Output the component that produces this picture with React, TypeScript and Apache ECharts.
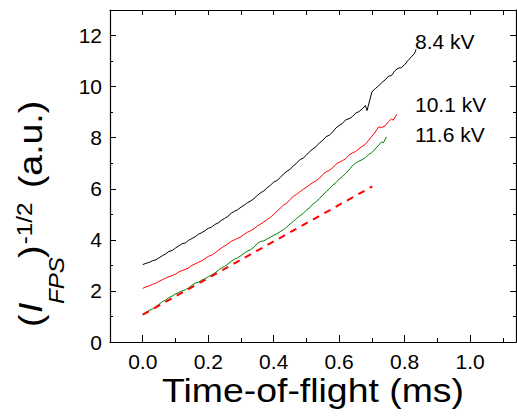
import React, { useEffect, useRef } from "react";
import * as echarts from "echarts";

const FONT = "'Liberation Sans', Arial, Helvetica, sans-serif";

// 8.4 kV (black)
const kv84: [number, number][] = [
  [0.0, 3.03], [0.01, 3.08], [0.02, 3.12], [0.03, 3.18], [0.04, 3.22], [0.05, 3.3],
  [0.06, 3.38], [0.07, 3.45], [0.08, 3.55], [0.09, 3.58], [0.1, 3.68], [0.11, 3.76],
  [0.12, 3.85], [0.13, 3.88], [0.14, 3.98], [0.15, 4.05], [0.16, 4.12], [0.17, 4.22],
  [0.18, 4.28], [0.19, 4.36], [0.2, 4.45], [0.21, 4.5], [0.22, 4.6], [0.23, 4.66],
  [0.24, 4.76], [0.25, 4.84], [0.26, 4.92], [0.27, 5.04], [0.28, 5.12], [0.29, 5.18],
  [0.3, 5.28], [0.31, 5.36], [0.32, 5.46], [0.33, 5.52], [0.34, 5.62], [0.35, 5.74],
  [0.36, 5.84], [0.37, 5.92], [0.38, 6.04], [0.39, 6.14], [0.4, 6.26], [0.41, 6.32],
  [0.42, 6.44], [0.43, 6.58], [0.44, 6.68], [0.45, 6.76], [0.46, 6.9], [0.47, 7.0],
  [0.48, 7.14], [0.49, 7.2], [0.5, 7.32], [0.51, 7.46], [0.52, 7.56], [0.53, 7.66],
  [0.54, 7.8], [0.55, 7.9], [0.56, 8.04], [0.57, 8.1], [0.58, 8.22], [0.59, 8.38],
  [0.6, 8.48], [0.61, 8.56], [0.62, 8.7], [0.63, 8.74], [0.64, 8.82], [0.65, 8.96],
  [0.66, 9.02], [0.67, 9.12], [0.68, 9.26], [0.685, 9.06], [0.695, 9.55], [0.7, 9.8],
  [0.71, 9.92], [0.72, 10.02], [0.73, 10.16], [0.74, 10.26], [0.75, 10.4], [0.76, 10.44],
  [0.77, 10.62], [0.78, 10.72], [0.79, 10.74], [0.8, 10.86], [0.81, 11.02], [0.82, 11.16],
  [0.83, 11.3], [0.835, 11.46],
];

// 10.1 kV (red)
const kv101: [number, number][] = [
  [0.0, 2.1], [0.01, 2.16], [0.02, 2.2], [0.03, 2.26], [0.04, 2.3], [0.05, 2.38],
  [0.06, 2.44], [0.07, 2.5], [0.08, 2.56], [0.09, 2.6], [0.1, 2.66], [0.11, 2.74],
  [0.12, 2.8], [0.13, 2.84], [0.14, 2.9], [0.15, 3.0], [0.16, 3.06], [0.17, 3.12],
  [0.18, 3.18], [0.19, 3.26], [0.2, 3.35], [0.21, 3.4], [0.22, 3.48], [0.23, 3.58],
  [0.24, 3.68], [0.25, 3.76], [0.26, 3.84], [0.27, 3.94], [0.28, 4.0], [0.29, 4.06],
  [0.3, 4.12], [0.31, 4.22], [0.32, 4.3], [0.33, 4.36], [0.34, 4.44], [0.35, 4.54],
  [0.36, 4.62], [0.37, 4.7], [0.38, 4.8], [0.39, 4.88], [0.4, 5.0], [0.41, 5.12],
  [0.42, 5.24], [0.43, 5.36], [0.44, 5.44], [0.45, 5.58], [0.46, 5.7], [0.47, 5.78],
  [0.48, 5.88], [0.49, 5.98], [0.5, 6.06], [0.51, 6.16], [0.52, 6.24], [0.53, 6.32],
  [0.54, 6.42], [0.55, 6.56], [0.56, 6.66], [0.57, 6.72], [0.58, 6.82], [0.59, 6.96],
  [0.6, 7.04], [0.61, 7.1], [0.62, 7.18], [0.63, 7.32], [0.64, 7.4], [0.65, 7.46],
  [0.66, 7.56], [0.67, 7.66], [0.68, 7.74], [0.69, 7.9], [0.7, 8.06], [0.71, 8.22],
  [0.72, 8.42], [0.73, 8.4], [0.74, 8.46], [0.75, 8.62], [0.76, 8.74], [0.765, 8.68],
  [0.776, 8.92],
];

// 11.6 kV (green)
const kv116: [number, number][] = [
  [0.0, 1.08], [0.01, 1.16], [0.02, 1.24], [0.03, 1.3], [0.04, 1.38], [0.05, 1.48],
  [0.06, 1.58], [0.07, 1.64], [0.08, 1.74], [0.09, 1.8], [0.1, 1.88], [0.11, 1.94],
  [0.12, 2.0], [0.13, 2.04], [0.14, 2.12], [0.15, 2.22], [0.16, 2.3], [0.17, 2.34],
  [0.18, 2.42], [0.19, 2.48], [0.2, 2.55], [0.21, 2.62], [0.22, 2.7], [0.23, 2.8],
  [0.24, 2.9], [0.25, 2.96], [0.26, 3.05], [0.27, 3.16], [0.28, 3.24], [0.29, 3.3],
  [0.3, 3.38], [0.31, 3.48], [0.32, 3.56], [0.33, 3.62], [0.34, 3.72], [0.35, 3.86],
  [0.36, 3.94], [0.37, 3.96], [0.38, 4.04], [0.39, 4.1], [0.4, 4.18], [0.41, 4.24],
  [0.42, 4.32], [0.43, 4.4], [0.44, 4.5], [0.45, 4.62], [0.46, 4.72], [0.47, 4.84],
  [0.48, 4.94], [0.49, 5.04], [0.5, 5.16], [0.51, 5.26], [0.52, 5.4], [0.53, 5.5],
  [0.54, 5.62], [0.55, 5.76], [0.56, 5.88], [0.57, 6.0], [0.58, 6.14], [0.59, 6.24],
  [0.6, 6.38], [0.61, 6.48], [0.62, 6.6], [0.63, 6.74], [0.64, 6.9], [0.65, 7.0],
  [0.66, 7.08], [0.67, 7.14], [0.68, 7.22], [0.69, 7.34], [0.7, 7.42], [0.71, 7.56],
  [0.72, 7.7], [0.73, 7.84], [0.735, 7.8], [0.744, 8.03],
];

// linear fit (red dashed)
const fit116: [number, number][] = [
  [0.0, 1.07], [0.35, 3.58], [0.701, 6.09],
];

const xMajor = [0, 0.2, 0.4, 0.6, 0.8, 1.0];
const xMinor = [0.1, 0.3, 0.5, 0.7, 0.9, 1.1];
const xTop = [0, 0.1, 0.2, 0.3, 0.4, 0.5, 0.6, 0.7, 0.8, 0.9, 1.0, 1.1];
const yMajor = [0, 2, 4, 6, 8, 10, 12];
const yMinor = [1, 3, 5, 7, 9, 11];
const annotations = ["8.4 kV", "10.1 kV", "11.6 kV"];

const X_MIN = -0.1;
const X_MAX = 1.14;
const Y_MIN = 0;
const Y_MAX = 13;

function xAx(position: string, ticks: number[], len: number, showLine: boolean, labels: boolean): any {
  return {
    type: "value",
    position,
    min: X_MIN,
    max: X_MAX,
    axisLine: { show: showLine, onZero: false, lineStyle: { color: "#000", width: 1.2 } },
    axisTick: { show: true, inside: true, length: len, customValues: ticks, lineStyle: { color: "#000", width: 1 } },
    axisLabel: labels
      ? {
          show: true,
          customValues: ticks,
          formatter: (v: number) => v.toFixed(1),
          fontFamily: FONT,
          fontSize: 21,
          color: "#000",
          margin: 9,
        }
      : { show: false },
    splitLine: { show: false },
  };
}

function yAx(position: string, ticks: number[], len: number, showLine: boolean, labels: boolean): any {
  return {
    type: "value",
    position,
    min: Y_MIN,
    max: Y_MAX,
    axisLine: { show: showLine, onZero: false, lineStyle: { color: "#000", width: 1.2 } },
    axisTick: { show: true, inside: true, length: len, customValues: ticks, lineStyle: { color: "#000", width: 1 } },
    axisLabel: labels
      ? {
          show: true,
          customValues: ticks,
          formatter: (v: number) => String(v),
          fontFamily: FONT,
          fontSize: 21,
          color: "#000",
          margin: 8,
        }
      : { show: false },
    splitLine: { show: false },
  };
}

export default function App() {
  const ref = useRef<HTMLDivElement>(null);

  useEffect(() => {
    if (!ref.current) return;
    const chart = echarts.init(ref.current, undefined, { renderer: "svg" });
    const main = `34px ${FONT}`;
    const mainIt = `italic 34px ${FONT}`;
    const small = `22px ${FONT}`;
    const smallIt = `italic 22px ${FONT}`;
    const t = (text: string, x: number, y: number, font: string) => ({
      type: "text",
      x,
      y,
      style: { text, font, fill: "#000", textAlign: "left", textVerticalAlign: "middle" },
    });

    chart.setOption({
      animation: false,
      backgroundColor: "#fff",
      grid: { left: 110, right: 1, top: 10, bottom: 76, containLabel: false, outerBoundsMode: "none" },
      xAxis: [
        xAx("bottom", xMajor, 7, true, true),
        xAx("bottom", xMinor, 4, false, false),
        xAx("top", xTop, 5, true, false),
      ],
      yAxis: [
        yAx("left", yMajor, 6, true, true),
        yAx("left", yMinor, 3, false, false),
        yAx("right", yMajor, 6, true, false),
        yAx("right", yMinor, 3, false, false),
      ],
      series: [
        {
          name: "8.4 kV",
          type: "line",
          data: kv84,
          showSymbol: false,
          symbol: "none",
          lineStyle: { color: "#000000", width: 1 },
          itemStyle: { color: "#000000" },
          z: 3,
        },
        {
          name: "10.1 kV",
          type: "line",
          data: kv101,
          showSymbol: false,
          symbol: "none",
          lineStyle: { color: "#ff0000", width: 1 },
          itemStyle: { color: "#ff0000" },
          z: 3,
        },
        {
          name: "11.6 kV",
          type: "line",
          data: kv116,
          showSymbol: false,
          symbol: "none",
          lineStyle: { color: "#008000", width: 1 },
          itemStyle: { color: "#008000" },
          z: 3,
        },
        {
          name: "fit",
          type: "line",
          data: fit116,
          showSymbol: false,
          symbol: "none",
          lineStyle: { color: "#ff0000", width: 2, type: [7, 6] },
          itemStyle: { color: "#ff0000" },
          z: 4,
        },
      ],
      graphic: [
        {
          type: "group",
          x: 0,
          y: 330,
          rotation: Math.PI / 2,
          scaleX: 1.1,
          children: [
            t("(", 2.7, 31, main),
            t("I", 15.5, 31, mainIt),
            t("FPS", 23.6, 56, smallIt),
            t(")", 65.5, 31, main),
            t("-1/2", 78, 24, small),
            t("(a.u.)", 129, 31, main),
          ],
        },
        {
          type: "text",
          x: 313,
          y: 391,
          scaleX: 1.1,
          style: {
            text: "Time-of-flight (ms)",
            font: `34px ${FONT}`,
            fill: "#000",
            textAlign: "center",
            textVerticalAlign: "middle",
          },
        },
        {
          type: "text",
          x: 415,
          y: 41,
          style: { text: annotations[0], font: `21px ${FONT}`, fill: "#000", textAlign: "left", textVerticalAlign: "middle" },
        },
        {
          type: "text",
          x: 415,
          y: 104,
          style: { text: annotations[1], font: `21px ${FONT}`, fill: "#000", textAlign: "left", textVerticalAlign: "middle" },
        },
        {
          type: "text",
          x: 415,
          y: 134,
          style: { text: annotations[2], font: `21px ${FONT}`, fill: "#000", textAlign: "left", textVerticalAlign: "middle" },
        },
      ],
    });

    return () => {
      chart.dispose();
    };
  }, []);

  return (
    <div
      ref={ref}
      style={{ position: "fixed", left: 0, top: 0, width: 517, height: 418, background: "#fff" }}
    />
  );
}
